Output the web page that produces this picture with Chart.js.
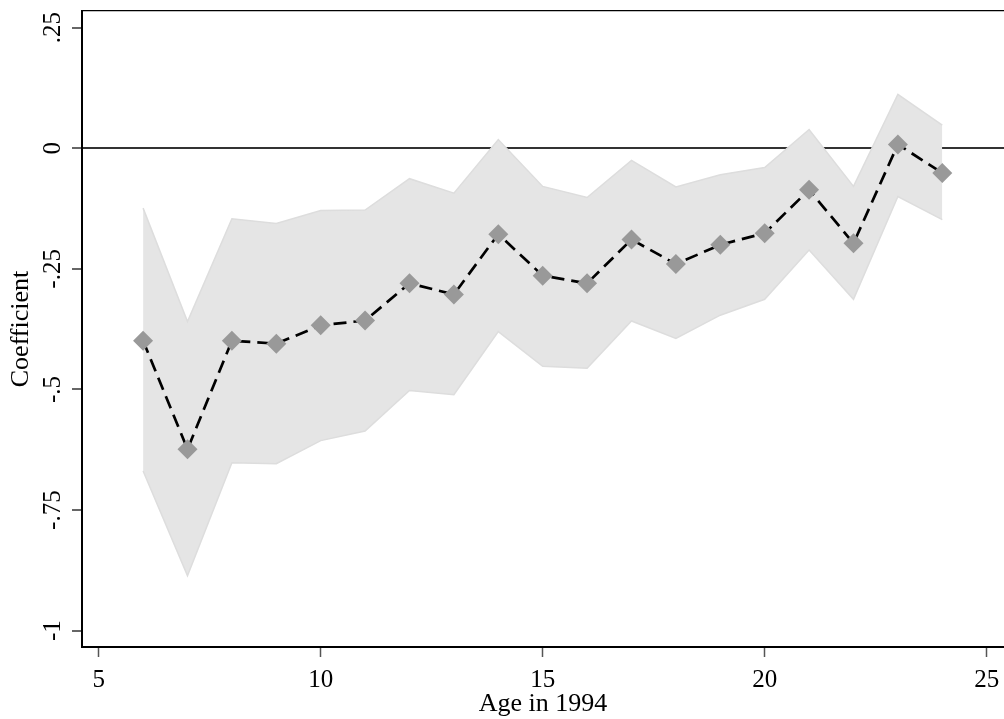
<!DOCTYPE html>
<html>
<head>
<meta charset="utf-8">
<script src="https://cdn.jsdelivr.net/npm/chart.js@4/dist/chart.umd.min.js"></script>
<style>
  html, body { margin: 0; padding: 0; background: #fff; overflow: hidden; }
  #wrap { width: 1004px; height: 719px; position: relative; }
  canvas { display: block; }
</style>
</head>
<body>
<div id="wrap"><canvas id="c" width="1004" height="719"></canvas></div>
<script>
// ---- data ----
const ages = [6, 7, 8, 9, 10, 11, 12, 13, 14, 15, 16, 17, 18, 19, 20, 21, 22, 23, 24];
const coef = [-0.399, -0.624, -0.399, -0.405, -0.367, -0.357, -0.280, -0.303, -0.178, -0.264,
              -0.280, -0.189, -0.240, -0.200, -0.176, -0.086, -0.197, 0.008, -0.051];
const ciUpper = [-0.124, -0.359, -0.146, -0.156, -0.129, -0.128, -0.063, -0.093, 0.018, -0.079,
                 -0.102, -0.025, -0.080, -0.055, -0.040, 0.039, -0.079, 0.112, 0.048];
const ciLower = [-0.669, -0.886, -0.652, -0.654, -0.606, -0.586, -0.502, -0.511, -0.380, -0.452,
                 -0.456, -0.358, -0.394, -0.346, -0.313, -0.211, -0.313, -0.100, -0.148];
const xTicks = [5, 10, 15, 20, 25];
const xTickLabels = ['5', '10', '15', '20', '25'];
const yTicks = [-1, -0.75, -0.5, -0.25, 0, 0.25];
const yTickLabels = ['-1', '-.75', '-.5', '-.25', '0', '.25'];
const xTitle = 'Age in 1994';
const yTitle = 'Coefficient';

const pts = (ys) => ages.map((a, i) => ({ x: a, y: ys[i] }));
const FONT = 'Liberation Serif, Times New Roman, serif';

new Chart(document.getElementById('c'), {
  type: 'line',
  data: {
    datasets: [
      {
        label: 'coef',
        data: pts(coef),
        order: 0,
        borderColor: '#000',
        borderWidth: 2.7,
        borderDash: [13, 7],
        fill: false,
        tension: 0,
        pointStyle: 'rectRot',
        pointRadius: 10,
        pointBackgroundColor: '#999999',
        pointBorderWidth: 0,
        pointHoverRadius: 10
      },
      {
        label: 'upper',
        data: pts(ciUpper),
        order: 1,
        borderColor: '#dddddd',
        borderWidth: 1.5,
        backgroundColor: '#e5e5e5',
        fill: false,
        pointRadius: 0,
        tension: 0
      },
      {
        label: 'lower',
        data: pts(ciLower),
        order: 2,
        borderColor: '#dddddd',
        borderWidth: 1.5,
        backgroundColor: '#e5e5e5',
        fill: '-1',
        pointRadius: 0,
        tension: 0
      }
    ]
  },
  options: {
    responsive: false,
    animation: false,
    events: [],
    layout: { autoPadding: false, padding: { top: 11, left: 0, right: 0, bottom: 0 } },
    plugins: {
      legend: { display: false },
      tooltip: { enabled: false },
      filler: { propagate: false }
    },
    scales: {
      x: {
        type: 'linear',
        position: 'bottom',
        min: 4.624,
        max: 25.39,
        afterBuildTicks: (s) => { s.ticks = xTicks.map(v => ({ value: v })); },
        afterFit: (s) => { s.height = 72; s.paddingLeft = 0; s.paddingRight = 0; },
        ticks: {
          color: '#000',
          font: { family: FONT, size: 25 },
          padding: 8,
          callback: (v) => xTickLabels[xTicks.indexOf(v)]
        },
        grid: {
          drawOnChartArea: false,
          drawTicks: true,
          tickLength: 10,
          tickColor: '#555',
          tickWidth: 1.5
        },
        border: { display: true, color: '#000', width: 2 },
        title: {
          display: true,
          text: xTitle,
          color: '#000',
          font: { family: FONT, size: 26, lineHeight: 1 },
          padding: { top: 0, bottom: 2 }
        }
      },
      xTop: {
        type: 'linear',
        position: 'top',
        min: 4.624,
        max: 25.39,
        afterFit: (s) => { s.height = 0; s.paddingLeft = 0; s.paddingRight = 0; },
        ticks: { display: false },
        grid: { display: false, drawTicks: false },
        border: { display: true, color: '#000', width: 1.2 }
      },
      y: {
        type: 'linear',
        position: 'left',
        min: -1.0338,
        max: 0.2846,
        afterBuildTicks: (s) => { s.ticks = yTicks.map(v => ({ value: v })); },
        afterFit: (s) => { s.width = 82; s.paddingTop = 0; s.paddingBottom = 0; },
        ticks: {
          color: '#000',
          font: { family: FONT, size: 25, lineHeight: 0.8 },
          minRotation: 90,
          maxRotation: 90,
          crossAlign: 'center',
          padding: -1,
          callback: (v) => yTickLabels[yTicks.indexOf(v)]
        },
        grid: {
          drawOnChartArea: true,
          drawTicks: true,
          tickLength: 10,
          tickColor: '#333',
          tickWidth: 1.5,
          color: (ctx) => (ctx.tick && ctx.tick.value === 0 ? '#333333' : 'rgba(0,0,0,0)'),
          lineWidth: (ctx) => (ctx.tick && ctx.tick.value === 0 ? 2 : 0)
        },
        border: { display: true, color: '#000', width: 2 },
        title: {
          display: true,
          text: yTitle,
          color: '#000',
          font: { family: FONT, size: 26, lineHeight: 1 },
          padding: { top: 8, bottom: 0 }
        }
      }
    }
  }
});
</script>
</body>
</html>
